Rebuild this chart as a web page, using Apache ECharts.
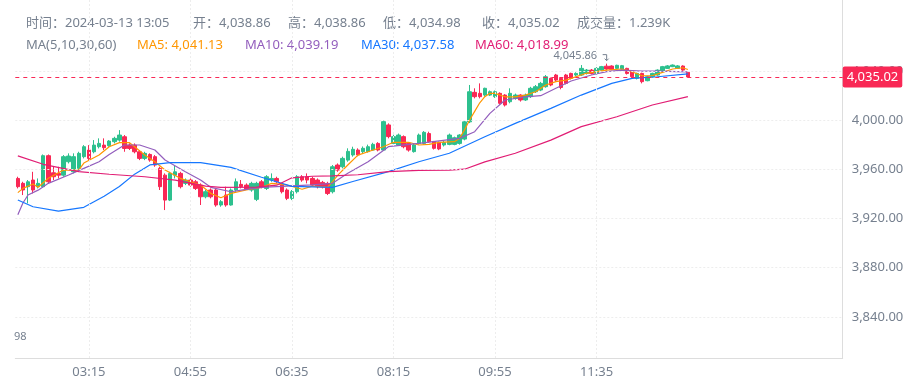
<!DOCTYPE html>
<html><head><meta charset="utf-8">
<script src="https://cdn.jsdelivr.net/npm/echarts@6/dist/echarts.min.js"></script>
<style>html,body{margin:0;padding:0;background:#fff}#c{width:922px;height:388px}</style>
</head><body><div id="c"></div><script>
// ---------- data ----------
const startMinutes = 2 * 60 + 5;   // first candle 02:05
const stepMinutes = 5;
const slotCount = 163;             // candles + empty right space
const xTickLabels = ['03:15','04:55','06:35','08:15','09:55','11:35'];
const yTickValues = [3840,3880,3920,3960,4000,4040];
const volumeText = '1.239K';

const opens = [
3952.5,3948.5,3945.8,3951.2,3945.8,3945.8,3971.0,3957.1,3956.6,3955.2,
3966.1,3957.9,3960.7,3970.2,3975.6,3974.2,3978.3,3979.6,3979.1,3982.4,
3983.7,3986.4,3979.6,3979.6,3974.2,3968.8,3972.0,3970.2,3960.7,3955.2,
3934.9,3955.2,3956.6,3948.5,3951.2,3949.8,3947.1,3937.6,3943.1,3943.1,
3930.9,3939.0,3930.9,3943.1,3947.7,3947.1,3943.1,3935.5,3949.8,3944.4,
3951.2,3952.5,3947.1,3943.1,3936.3,3941.7,3953.9,3953.9,3952.5,3951.2,
3949.3,3948.5,3941.7,3963.4,3962.0,3967.4,3971.6,3975.6,3974.3,3974.3,
3975.6,3981.0,3975.6,3996.0,3981.0,3979.7,3986.5,3981.0,3974.3,3981.0,
3981.0,3989.0,3982.4,3981.8,3979.7,3980.2,3980.2,3981.0,3984.5,3998.5,
4022.5,4021.7,4020.3,4020.3,4019.0,4021.7,4020.3,4014.9,4017.6,4020.3,
4016.3,4019.0,4023.0,4024.4,4027.1,4033.9,4036.6,4033.9,4036.6,4037.9,
4036.6,4036.6,4037.9,4040.6,4037.9,4040.6,4043.8,4043.9,4042.0,4041.5,
4042.0,4039.3,4033.9,4037.9,4032.0,4035.2,4036.6,4039.3,4042.0,4043.4,
4042.0,4043.9,4038.86];
const closes = [
3945.8,3943.1,3949.8,3943.1,3948.5,3971.0,3949.8,3953.9,3955.2,3970.2,
3970.7,3970.2,3972.9,3978.3,3968.8,3979.6,3981.0,3977.5,3982.9,3985.1,
3987.8,3976.9,3976.9,3974.2,3968.8,3972.9,3967.4,3963.4,3945.8,3934.9,
3956.6,3957.9,3945.8,3951.2,3947.1,3944.4,3937.6,3941.7,3937.6,3930.9,
3933.6,3930.9,3943.1,3949.8,3945.8,3943.9,3948.5,3948.5,3945.8,3953.9,
3952.5,3949.8,3941.7,3936.3,3941.7,3953.9,3951.2,3951.2,3947.1,3945.8,
3945.8,3940.3,3962.0,3959.3,3968.8,3974.5,3976.2,3971.6,3977.0,3978.3,
3980.2,3975.6,3998.7,3986.5,3986.5,3987.8,3978.3,3975.6,3979.7,3987.8,
3990.0,3982.4,3977.0,3976.5,3981.8,3987.8,3985.6,3987.8,3998.5,4023.0,
4019.0,4019.0,4025.8,4023.0,4023.0,4013.6,4012.2,4021.7,4020.3,4016.3,
4020.3,4025.8,4027.1,4029.8,4035.2,4028.5,4032.5,4026.5,4029.8,4033.9,
4037.9,4042.0,4040.6,4037.9,4042.0,4043.4,4041.5,4041.2,4044.5,4044.2,
4037.9,4035.2,4037.9,4031.2,4035.2,4037.9,4040.6,4043.4,4044.0,4044.7,
4044.0,4040.6,4035.02];
const lows = [
3944.4,3939.0,3932.2,3940.3,3944.4,3945.0,3948.5,3951.2,3952.5,3953.9,
3964.7,3956.6,3959.3,3968.8,3967.4,3972.9,3976.9,3975.6,3978.3,3981.0,
3982.4,3974.2,3975.6,3972.9,3967.4,3967.4,3966.1,3962.0,3943.1,3926.8,
3934.1,3952.5,3944.4,3947.1,3945.8,3943.1,3930.9,3936.3,3936.3,3929.5,
3929.5,3929.5,3930.4,3941.7,3944.4,3943.1,3941.7,3934.1,3944.4,3943.1,
3949.8,3948.5,3940.3,3934.9,3934.9,3940.3,3949.8,3948.5,3945.8,3944.4,
3944.4,3939.0,3940.3,3957.9,3960.7,3966.1,3970.2,3970.5,3973.0,3973.5,
3975.0,3974.5,3975.0,3985.1,3980.0,3979.0,3977.0,3974.3,3973.5,3980.0,
3980.0,3981.5,3976.0,3975.5,3978.5,3979.5,3979.5,3980.0,3983.5,3997.5,
4017.6,4017.6,4019.0,4019.5,4018.0,4012.5,4011.0,4013.6,4016.5,4015.0,
4015.5,4018.0,4022.0,4023.5,4026.3,4027.5,4031.5,4025.0,4029.0,4033.0,
4035.5,4035.8,4037.0,4037.0,4037.0,4040.0,4040.5,4040.5,4041.5,4041.0,
4037.0,4034.5,4033.0,4029.8,4031.5,4034.5,4036.0,4038.8,4041.5,4043.0,
4041.5,4040.0,4034.98];
const highs = [
3953.9,3949.8,3951.2,3957.9,3952.5,3972.0,3972.0,3962.0,3962.0,3971.5,
3972.9,3972.9,3974.2,3979.6,3979.6,3983.7,3985.1,3985.1,3983.7,3986.4,
3991.8,3987.8,3981.0,3981.0,3975.6,3974.2,3972.9,3971.5,3962.0,3956.6,
3957.9,3963.4,3957.9,3952.5,3952.5,3951.2,3948.5,3943.1,3944.4,3944.4,
3934.9,3945.8,3944.4,3952.5,3951.2,3948.5,3949.8,3949.8,3951.2,3955.2,
3956.6,3953.9,3948.5,3944.4,3943.1,3955.2,3955.2,3956.6,3953.9,3952.5,
3950.5,3949.8,3963.4,3964.7,3970.2,3977.0,3978.3,3977.0,3978.5,3980.0,
3981.5,3982.0,4000.0,3997.3,3988.0,3989.0,3987.5,3982.0,3981.0,3989.0,
3991.0,3990.5,3983.0,3982.5,3983.0,3989.0,3986.5,3988.5,3999.5,4028.5,
4025.8,4029.8,4026.3,4024.0,4024.0,4022.5,4021.0,4025.8,4021.5,4021.0,
4021.5,4027.0,4028.5,4031.0,4036.6,4034.5,4037.5,4034.8,4037.5,4038.5,
4038.8,4044.7,4041.5,4041.5,4043.0,4044.0,4045.86,4044.5,4045.0,4044.8,
4042.5,4040.0,4038.5,4038.5,4036.0,4038.5,4041.2,4044.0,4044.7,4045.2,
4044.7,4044.5,4038.86];

// moving averages: [candle index, value]
const ma5Pts = [[0,3941],[1,3944.4],[3,3948],[4,3945.3],[6,3952.6],[9,3959.3],[12,3959.3],[13,3965],[16,3971.5],[18,3978.3],[20,3981.6],[22,3981.6],[23,3978.3],[25,3971.5],[27,3966.1],[29,3959.3],[32,3952.6],[34,3949.8],[36,3947.2],[38,3940.4],[40,3936.8],[42,3940.4],[45,3943.1],[48,3945.3],[50,3948.5],[53,3947.2],[56,3943.7],[58,3946.3],[61,3945.3],[62,3950],[63,3955],[65,3963.4],[67,3971.5],[70,3975.6],[72,3978.3],[74,3981.9],[77,3981.9],[79,3979.7],[81,3980.2],[83,3981.9],[86,3982.4],[87,3985],[88,3992],[89,4000],[90,4007],[91,4014],[92,4019],[93,4021.7],[94,4021.7],[96,4018.9],[98,4018.9],[100,4020.3],[102,4023],[104,4028.5],[106,4031.2],[108,4032.5],[109,4033.9],[112,4038],[114,4039.3],[116,4040.6],[119,4041.5],[121,4039.3],[123,4036],[125,4036],[127,4038.8],[129,4041.5],[131,4042.5],[132,4041.13]];
const ma10Pts = [[0,3923],[1,3932.5],[2,3939],[4,3943],[6,3948.5],[10,3955.3],[13,3960.7],[16,3966.1],[18,3972],[21,3979.7],[24,3979.7],[27,3975.6],[29,3967.5],[33,3958],[36,3951.2],[38,3945.3],[42,3941.7],[44,3943],[48,3945.3],[53,3946.3],[58,3947.2],[62,3948.5],[65,3956.7],[69,3966.1],[73,3978.3],[79,3981],[87,3985.1],[90,3990.5],[93,4005.4],[96,4016.3],[100,4018.9],[103,4019.8],[106,4025.8],[109,4031.7],[113,4036.6],[116,4039.3],[119,4040.6],[123,4039.8],[126,4039.8],[132,4039.19]];
const ma30Pts = [[0,3935],[3,3929.5],[8,3926],[13,3929],[17,3938],[20,3946],[23,3956],[26,3963.5],[30,3965.3],[36,3965.3],[42,3961.5],[48,3953.5],[54,3946],[62,3945.3],[66,3950],[73,3958],[79,3966.1],[85,3973],[92,3986.4],[98,3997.3],[105,4009.5],[111,4020.3],[117,4029.8],[121,4033.9],[126,4035.2],[132,4037.58]];
const ma60Pts = [[0,3970.8],[5,3964],[12,3958],[18,3955.9],[25,3953.9],[31,3951.2],[37,3946.3],[40,3945.3],[47,3945.5],[51,3947],[54,3953],[58,3954.3],[62,3954.6],[67,3955.5],[73,3958],[79,3959],[85,3959.3],[88,3960],[92,3966],[98,3973],[105,3983.7],[111,3994.6],[118,4002.7],[125,4012.2],[132,4018.99]];

// ---------- layout / style ----------
const yMin = 3806.5, yMax = 4097.6;
const C_TEXT = '#76808F', C_UP = '#2DC08E', C_DOWN = '#F92855';
const MA_COLORS = ['#FF9600', '#935EBD', '#1677FF', '#E11D74'];
const FONT = '"Noto Sans", "Noto Sans CJK SC", sans-serif';
const headerRow1X = [26, 193, 288, 383, 482, 577];
const headerRow2X = [26, 137, 245, 361, 475];

const fmt = v => Number(v).toLocaleString('en-US', {minimumFractionDigits: 2, maximumFractionDigits: 2});
const pad = n => String(n).padStart(2, '0');
const categories = [];
for (let k = 0; k < slotCount; k++) {
  const m = (startMinutes + k * stepMinutes) % 1440;
  categories.push(pad(Math.floor(m / 60)) + ':' + pad(m % 60));
}
const last = closes.length - 1;
const candleData = opens.map((o, i) => [o, closes[i], lows[i], highs[i]]);
let hiIdx = 0;
highs.forEach((h, i) => { if (h > highs[hiIdx]) hiIdx = i; });

const row1 = [
  '时间：2024-03-13 ' + categories[last],
  '开：' + fmt(opens[last]),
  '高：' + fmt(highs[last]),
  '低：' + fmt(lows[last]),
  '收：' + fmt(closes[last]),
  '成交量：' + volumeText
];
const maLast = [ma5Pts, ma10Pts, ma30Pts, ma60Pts].map(a => a[a.length - 1][1]);
const row2 = [
  ['MA(5,10,30,60)', C_TEXT],
  ['MA5: ' + fmt(maLast[0]), MA_COLORS[0]],
  ['MA10: ' + fmt(maLast[1]), MA_COLORS[1]],
  ['MA30: ' + fmt(maLast[2]), MA_COLORS[2]],
  ['MA60: ' + fmt(maLast[3]), MA_COLORS[3]]
];
const graphics = [];
row1.forEach((t, k) => graphics.push({type: 'text', x: headerRow1X[k], y: 23, silent: true,
  style: {text: t, fill: C_TEXT, fontSize: 13, fontFamily: FONT, verticalAlign: 'middle'}}));
row2.forEach((t, k) => graphics.push({type: 'text', x: headerRow2X[k], y: 45, silent: true,
  style: {text: t[0], fill: t[1], fontSize: 13, fontFamily: FONT, verticalAlign: 'middle'}}));
graphics.push({type: 'text', x: 14, y: 337, silent: true,
  style: {text: '98', fill: C_TEXT, fontSize: 11, fontFamily: FONT, verticalAlign: 'middle'}});

const maSeries = [ma5Pts, ma10Pts, ma30Pts, ma60Pts].map((pts, k) => ({
  type: 'line', data: pts, symbol: 'none', showSymbol: false, silent: true, z: 4,
  lineStyle: {width: 1.2, color: MA_COLORS[k]}
}));

const chart = echarts.init(document.getElementById('c'), null, {renderer: 'canvas'});
chart.setOption({
  animation: false,
  textStyle: {fontFamily: FONT},
  grid: {left: 15.3, right: 79.3, top: 0, bottom: 30},
  xAxis: {
    type: 'category', data: categories, boundaryGap: true,
    axisLine: {lineStyle: {color: '#DDDDDD'}},
    axisTick: {show: false},
    splitLine: {show: false},
    axisLabel: {interval: (i, v) => xTickLabels.includes(v), color: C_TEXT, fontSize: 13, margin: 8, fontFamily: FONT}
  },
  yAxis: {
    type: 'value', position: 'right', min: yMin, max: yMax,
    axisLine: {show: true, lineStyle: {color: '#DDDDDD'}},
    axisTick: {show: false},
    splitLine: {show: false},
    axisLabel: {customValues: yTickValues, formatter: v => fmt(v), color: C_TEXT, fontSize: 13, margin: 9, fontFamily: FONT}
  },
  graphic: graphics,
  series: [
    {
      type: 'line', data: [], z: 1, silent: true,
      markLine: {
        silent: true, symbol: ['none', 'none'], label: {show: false},
        lineStyle: {color: '#EDEDED', type: [2, 2], width: 1},
        data: [...xTickLabels.map(v => ({xAxis: v})), ...yTickValues.map(v => ({yAxis: v}))]
      }
    },
    {
      type: 'candlestick', data: candleData, barWidth: 4, z: 3, silent: true,
      itemStyle: {color: C_UP, color0: C_DOWN, borderColor: C_UP, borderColor0: C_DOWN, borderWidth: 1},
      markLine: {
        silent: true, symbol: ['none', 'none'],
        data: [{
          yAxis: closes[last],
          lineStyle: {color: C_DOWN, type: [4, 4], width: 1},
          label: {show: true, position: 'end', distance: 0, formatter: () => fmt(closes[last]),
            backgroundColor: C_DOWN, color: '#fff', padding: [4, 4, 4, 4], borderRadius: 2,
            fontSize: 13, fontFamily: FONT}
        }]
      },
      markPoint: {
        silent: true,
        symbol: 'path://M0,0 L4,0 L4,6 M2,4 L4,6 L6,4',
        symbolSize: [6, 6], symbolKeepAspect: true, symbolOffset: [-1, -6],
        itemStyle: {color: 'transparent', borderColor: C_TEXT, borderWidth: 1},
        label: {show: true, position: 'left', distance: 5, offset: [0, -2],
          formatter: () => fmt(highs[hiIdx]), color: C_TEXT, fontSize: 11, fontFamily: FONT},
        data: [{coord: [hiIdx, highs[hiIdx]], value: highs[hiIdx]}]
      }
    },
    ...maSeries
  ]
});
</script></body></html>
